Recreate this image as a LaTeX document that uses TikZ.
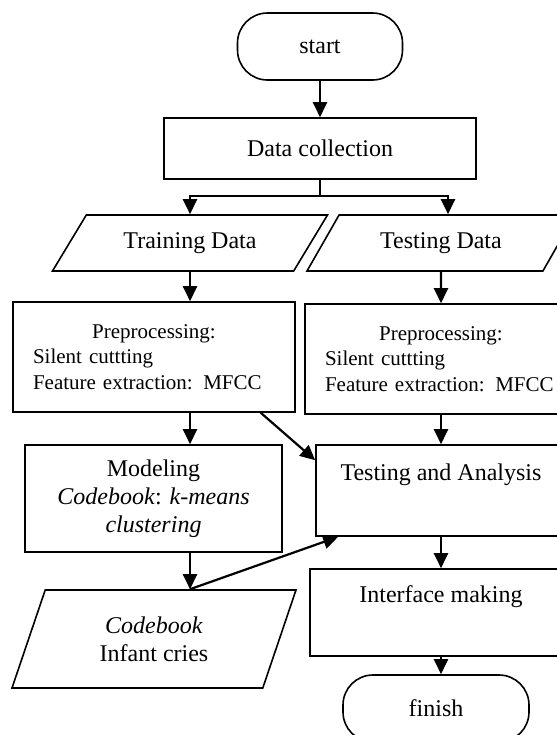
\documentclass[tikz,border=0pt]{standalone}
\usepackage{fontspec}
\setmainfont{Liberation Serif}
\usetikzlibrary{positioning, arrows.meta, shapes.geometric, calc}

\begin{document}
\begin{tikzpicture}[
    x=0.5pt, y=-0.5pt,
    every node/.style={font=\fontsize{12}{14}\selectfont},
    term/.style={rectangle, draw, line width=0.8pt, rounded corners=15pt, minimum width=82.5pt, minimum height=33.5pt},
    box/.style={rectangle, draw, line width=0.8pt, align=center},
    prep/.style={box, align=left, font=\fontsize{10.5}{12.8}\selectfont, inner xsep=10pt, minimum height=55pt},
    data/.style={trapezium, draw, line width=0.8pt, trapezium stretches body, align=center},
    arrow/.style={-{Triangle[length=7.5pt,width=7pt]}, line width=1.1pt}
]
    \useasboundingbox (0,0) rectangle (557,735);
    \clip (0,0) rectangle (557,735);

    % Top of the flow
    \node[term] (start) at (320,46.5) {start};
    \node[box, minimum width=156pt, minimum height=30.5pt] (collect) at (320,148.5) {Data collection};
    \coordinate (split) at (320,196);

    % Left column: training
    \node[data, trapezium left angle=45.5, trapezium right angle=134.5, minimum width=137.5pt, minimum height=28pt] (train) at (190,243) {Training Data};
    \node[prep, text width=121pt] (preL) at (154,357)
        {\makebox[\linewidth]{Preprocessing:}\\ Silent cuttting\\ Feature extraction: MFCC};
    \node[box, minimum width=128.5pt, minimum height=53.5pt] (model) at (153.5,498.5)
        {Modeling\\ \textit{Codebook}: \textit{k-means}\\ \textit{clustering}};
    \node[data, trapezium left angle=60.3, trapezium right angle=119.7, minimum width=142pt, minimum height=49pt] (cb) at (154,639)
        {\textit{Codebook}\\ Infant cries};

    % Right column: testing
    \node[data, trapezium left angle=47, trapezium right angle=133, minimum width=134pt, minimum height=28pt] (test) at (441,243) {Testing Data};
    \node[prep, text width=116pt] (preR) at (441,359)
        {\makebox[\linewidth]{Preprocessing:}\\ Silent cuttting\\ Feature extraction: MFCC};
    \node[box, minimum width=125pt, minimum height=45.5pt] (ta) at (441,490.5) {Testing and Analysis\\ \strut};
    \node[box, minimum width=131pt, minimum height=43.5pt] (iface) at (441,612.5) {Interface making\\ \strut};
    \node[term, minimum width=93pt] (finish) at (436,708.5) {finish};

    % Arrows
    \draw[arrow] (start) -- (collect);
    \draw[line width=1.1pt] (collect) -- (split);
    \draw[arrow] (split) -| (train.north);
    \draw[arrow] (split) -| ([xshift=3.5pt]test.north);
    \draw[arrow] (train.south) -- (train.south |- preL.north);
    \draw[arrow] (preL.south -| train.south) -- (model.north -| train.south);
    \draw[arrow] (model.south -| train.south) -- (cb.north -| train.south);
    \draw[arrow] ([xshift=-17.5pt]preL.south east) -- ([yshift=-8pt]ta.north west);
    \draw[arrow] (cb.north -| train.south) -- ([xshift=11.5pt]ta.south west);
    \draw[arrow] (test.south) -- (preR.north);
    \draw[arrow] (preR.south) -- (ta.north);
    \draw[arrow] (ta.south) -- (iface.north);
    \draw[arrow] (iface.south) -- (iface.south |- finish.north);
\end{tikzpicture}
\end{document}
